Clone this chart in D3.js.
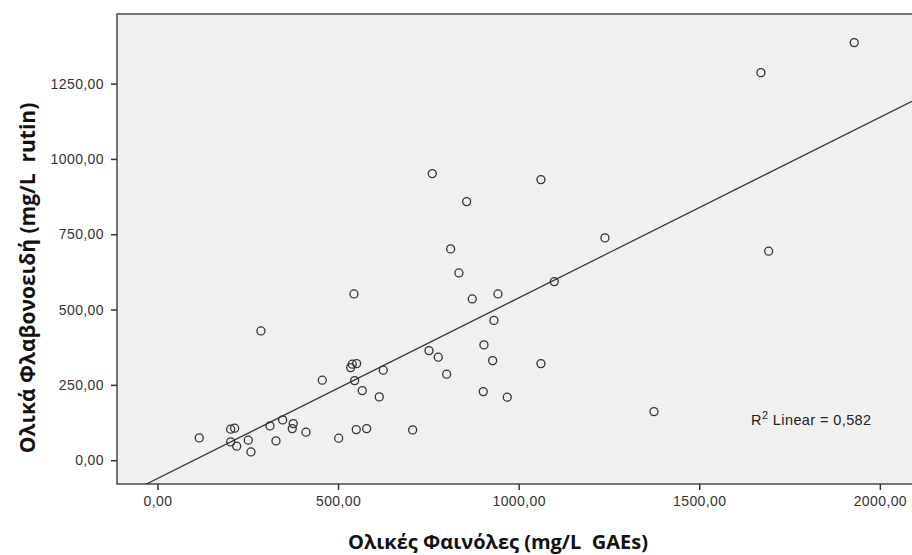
<!DOCTYPE html>
<html>
<head>
<meta charset="utf-8">
<script src="https://cdn.jsdelivr.net/npm/d3@7"></script>
<style>
  html, body { margin: 0; padding: 0; background: #ffffff; }
  svg { display: block; }
  .tick text { font-family: "Liberation Sans", Arial, sans-serif; font-size: 14px; fill: #333; letter-spacing: 0.4px; }
  .title { font-family: "Open Sans", "Noto Sans", sans-serif; font-weight: 700; fill: #111; white-space: pre; }
</style>
</head>
<body>
<svg id="chart" width="912" height="555"></svg>
<script>
// Total phenols (mg/L GAEs) per sample
const phenols = [
  286.5, 115.7, 202.7, 213.7, 202.7, 219.3, 251.4, 258.9, 311.5, 328.1,
  346.6, 376.0, 373.2, 411.1, 456.3, 501.7, 534.9, 539.3, 551.5, 546.0,
  567.0, 614.1, 625.1, 550.4, 579.2, 706.5, 751.7, 777.4, 800.7, 902.0,
  903.9, 928.0, 931.6, 760.8, 856.0, 811.7, 834.7, 544.0, 871.5, 942.7,
  1061.7, 1238.9, 1098.6, 1692.1, 1061.7, 968.4, 1374.6, 1929.1, 1670.8
];
// Total flavonoids (mg/L rutin) per sample
const flavonoids = [
  429.1, 74.0, 102.9, 106.2, 60.7, 46.5, 66.4, 27.5, 113.8, 64.1,
  133.8, 121.5, 104.9, 92.9, 265.5, 73.0, 307.3, 318.6, 320.6, 264.2,
  231.0, 210.1, 298.7, 101.6, 104.9, 100.6, 363.8, 341.9, 285.4, 227.7,
  382.7, 330.6, 464.0, 951.2, 858.3, 701.3, 621.6, 551.9, 535.3, 551.9,
  931.3, 737.8, 592.8, 693.7, 320.6, 209.1, 161.3, 1386.0, 1286.4
];
const xTicks = [0, 500, 1000, 1500, 2000];
const yTicks = [0, 250, 500, 750, 1000, 1250];
const xTitle = "Ολικές Φαινόλες (mg/L  GAEs)";
const yTitle = "Ολικά Φλαβονοειδή (mg/L  rutin)";
const fitLabel = "0,582";

const svg = d3.select("#chart");
const plot = { left: 117, top: 14, right: 912, bottom: 484 };

const x = d3.scaleLinear().domain([-112, 2089]).range([plot.left, plot.right]);
const y = d3.scaleLinear().domain([-79, 1481]).range([plot.bottom, plot.top]);

const fmt = v => d3.format(".2f")(v).replace(".", ",");

// plot background
svg.append("rect")
  .attr("x", plot.left).attr("y", plot.top)
  .attr("width", plot.right - plot.left + 20).attr("height", plot.bottom - plot.top)
  .attr("fill", "#f0f0f0")
  .attr("stroke", "#4a4a4a").attr("stroke-width", 1.5);

svg.append("clipPath").attr("id", "clip")
  .append("rect")
  .attr("x", plot.left).attr("y", plot.top)
  .attr("width", plot.right - plot.left).attr("height", plot.bottom - plot.top);

// axes
const xAxis = svg.append("g")
  .attr("transform", `translate(0,${plot.bottom})`)
  .call(d3.axisBottom(x).tickValues(xTicks).tickFormat(fmt).tickSize(6).tickPadding(6));
const yAxis = svg.append("g")
  .attr("transform", `translate(${plot.left},0)`)
  .call(d3.axisLeft(y).tickValues(yTicks).tickFormat(fmt).tickSize(6).tickPadding(7));
[xAxis, yAxis].forEach(g => {
  g.select(".domain").remove();
  g.selectAll(".tick line").attr("stroke", "#333").attr("stroke-width", 1.5);
});

// least-squares fit line
const data = phenols.map((p, i) => ({ x: p, y: flavonoids[i] }));
const mx = d3.mean(data, d => d.x), my = d3.mean(data, d => d.y);
const sxy = d3.sum(data, d => (d.x - mx) * (d.y - my));
const sxx = d3.sum(data, d => (d.x - mx) ** 2);
const slope = sxy / sxx, intercept = my - slope * mx;
const xd = x.domain();
svg.append("line")
  .attr("clip-path", "url(#clip)")
  .attr("x1", x(xd[0])).attr("y1", y(intercept + slope * xd[0]))
  .attr("x2", x(xd[1])).attr("y2", y(intercept + slope * xd[1]))
  .attr("stroke", "#333").attr("stroke-width", 1.2);

// sample points
svg.append("g").attr("clip-path", "url(#clip)")
  .selectAll("circle").data(data).join("circle")
  .attr("cx", d => x(d.x)).attr("cy", d => y(d.y))
  .attr("r", 4)
  .attr("fill", "none").attr("stroke", "#333").attr("stroke-width", 1.3);

// fit annotation
const note = svg.append("text")
  .attr("x", 751).attr("y", 425)
  .attr("font-family", "Liberation Sans, Arial, sans-serif")
  .attr("font-size", 14.5).attr("letter-spacing", 0.4).attr("fill", "#222");
note.append("tspan").text("R");
note.append("tspan").attr("font-size", 11).attr("dy", -6).text("2");
note.append("tspan").attr("dy", 6).text(" Linear = " + fitLabel);

// axis titles
svg.append("text").attr("class", "title")
  .attr("x", 498).attr("y", 549)
  .attr("text-anchor", "middle").attr("font-size", 20)
  .text(xTitle);
svg.append("text").attr("class", "title")
  .attr("transform", "translate(35,278) rotate(-90)")
  .attr("text-anchor", "middle").attr("font-size", 21)
  .text(yTitle);
</script>
</body>
</html>
